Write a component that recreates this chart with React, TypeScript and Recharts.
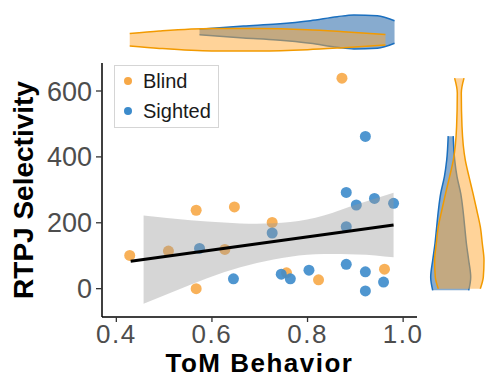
import { ComposedChart, Scatter, Line, Area, XAxis, YAxis, Legend } from 'recharts';

// scatter points (ToM behavior vs RTPJ selectivity)
const blindX = [0.428, 0.509, 0.567, 0.567, 0.627, 0.647, 0.726, 0.756, 0.823, 0.872, 0.961];
const blindY = [101, 114, 238, 0, 119, 248, 201, 48, 27, 639, 59];
const sightedX = [0.574, 0.645, 0.726, 0.745, 0.764, 0.803, 0.881, 0.881, 0.881, 0.902, 0.921, 0.921, 0.921, 0.94, 0.959, 0.98];
const sightedY = [122, 30, 169, 44, 30, 56, 292, 188, 74, 254, 462, 51, -7, 274, 20, 259];

// linear fit and its confidence band
const fitX = [0.43, 0.98];
const fitY = [83, 193];
const bandX = [0.457, 0.555, 0.625, 0.694, 0.764, 0.834, 0.904, 0.98];
const bandLow = [-46, 12, 50, 78, 97, 105, 104, 95];
const bandHigh = [222, 208, 201, 197, 202, 222, 256, 291];

// marginal violins: half widths (px) at sampled values
const topBlindX = [0.428, 0.49, 0.6, 0.7, 0.8, 0.875, 0.963];
const topBlindW = [6.2, 8.7, 11.3, 11.3, 10, 8, 5.3];
const topSightedX = [0.574, 0.666, 0.736, 0.806, 0.862, 0.897, 0.946, 0.982];
const topSightedW = [2.7, 6, 8, 11.3, 15.3, 17, 16.3, 11.3];
const rightBlindY = [0, 35, 86, 137, 188, 238, 289, 340, 390, 492, 594, 639];
const rightBlindW = [21, 24, 24.7, 23, 21, 17.5, 13.7, 9.7, 6, 2.7, 2, 4.7];
const rightSightedY = [-5, 35, 86, 137, 188, 238, 289, 340, 390, 463];
const rightSightedW = [18, 20, 18, 15.7, 14, 12.3, 10, 6.3, 4, 2.5];

const groups = ['Blind', 'Sighted'];
const xTicks = [0.4, 0.6, 0.8, 1.0];
const yTicks = [0, 200, 400, 600];

const FONT = '"Liberation Sans", Arial, Helvetica, sans-serif';
const ORANGE = '#F7A847';
const BLUE = '#3C8BCB';
const X_DOMAIN = [0.37, 1.029];
const Y_DOMAIN = [-86, 685];

const blindPts = blindX.map((x, i) => ({ x, y: blindY[i] }));
const sightedPts = sightedX.map((x, i) => ({ x, y: sightedY[i] }));
const fitData = fitX.map((x, i) => ({ x, y: fitY[i] }));
const bandData = bandX.map((x, i) => ({ x, band: [bandLow[i], bandHigh[i]] }));
const topBlind = topBlindX.map((x, i) => ({ x, w: topBlindW[i] }));
const topSighted = topSightedX.map((x, i) => ({ x, w: topSightedW[i] }));
const rightBlind = rightBlindY.map((y, i) => ({ y, w: rightBlindW[i] }));
const rightSighted = rightSightedY.map((y, i) => ({ y, w: rightSightedW[i] }));

const dot = (color: string) => (p: any) => (
  <circle cx={p.cx} cy={p.cy} r={5.5} fill={color} fillOpacity={0.9} />
);

const YTitle = ({ viewBox }: any) => {
  const cy = viewBox.y + viewBox.height / 2;
  return (
    <text x={33} y={cy} transform={`rotate(-90, 33, ${cy})`} textAnchor="middle"
      style={{ fontFamily: FONT, fontWeight: 700, fontSize: 28, fill: '#000' }}>
      RTPJ Selectivity
    </text>
  );
};

const LegendBox = () => (
  <div style={{ width: 105, height: 63, boxSizing: 'border-box', border: '1.5px solid #D5D5D5', background: '#fff', padding: '0 0 0 9px', fontFamily: FONT, fontSize: 20, color: '#1a1a1a' }}>
    {groups.map((g, i) => (
      <div key={g} style={{ display: 'flex', alignItems: 'center', height: 30 }}>
        <span style={{ width: 8, height: 8, borderRadius: '50%', background: i === 0 ? ORANGE : BLUE, display: 'inline-block', marginRight: 11 }} />
        {g}
      </div>
    ))}
  </div>
);

const violin = { type: 'monotone' as const, strokeWidth: 1.5, isAnimationActive: false };

export default function App() {
  return (
    <div style={{ position: 'fixed', left: 0, top: 0, width: 487, height: 378, background: '#fff' }}>
      <div style={{ position: 'absolute', left: 0, top: 0 }}>
        <ComposedChart width={487} height={378} margin={{ top: 63, right: 70, bottom: 0, left: 0 }}>
          <XAxis type="number" dataKey="x" domain={X_DOMAIN} ticks={xTicks} allowDataOverflow height={61}
            tickFormatter={(v) => v.toFixed(1)}
            axisLine={{ stroke: '#000', strokeWidth: 1.5 }} tickLine={{ stroke: '#333', strokeWidth: 1.3 }}
            tickSize={5} tickMargin={3} tick={{ fill: '#4D4D4D', fontSize: 26, fontFamily: FONT, letterSpacing: 1.5 }}
            label={{ value: 'ToM Behavior', position: 'insideBottom', offset: 6, style: { fontFamily: FONT, fontWeight: 700, fontSize: 26, fill: '#000', letterSpacing: 1.5 } }} />
          <YAxis type="number" dataKey="y" domain={Y_DOMAIN} ticks={yTicks} allowDataOverflow width={102}
            axisLine={{ stroke: '#000', strokeWidth: 1.5 }} tickLine={{ stroke: '#333', strokeWidth: 1.3 }}
            tickSize={6} tickMargin={4} tick={{ fill: '#4D4D4D', fontSize: 27, fontFamily: FONT }}
            label={{ content: YTitle }} />
          <Scatter data={blindPts} shape={dot(ORANGE)} isAnimationActive={false} />
          <Scatter data={sightedPts} shape={dot(BLUE)} isAnimationActive={false} />
          <Area data={bandData} dataKey="band" type="monotone" fill="#999999" fillOpacity={0.4} stroke="none" isAnimationActive={false} zIndex={700} />
          <Line data={fitData} dataKey="y" stroke="#000" strokeWidth={3} dot={false} isAnimationActive={false} zIndex={800} />
          <Legend layout="horizontal" verticalAlign="middle" align="center" content={LegendBox}
            wrapperStyle={{ left: 114, top: 65, width: 105, height: 63 }} />
        </ComposedChart>
      </div>
      <div style={{ position: 'absolute', left: 0, top: 0 }}>
        <ComposedChart width={487} height={60} margin={{ top: 0, right: 70, bottom: 0, left: 102 }}>
          <XAxis hide type="number" dataKey="x" domain={X_DOMAIN} allowDataOverflow />
          <YAxis hide type="number" domain={[0, 60]} reversed allowDataOverflow />
          <Area data={topSighted} dataKey={(d: any) => [32 - d.w, 32 + d.w]} fill="#10579F" fillOpacity={0.5} stroke="#1A6FBF" {...violin} />
          <Area data={topBlind} dataKey={(d: any) => [39.7 - d.w, 39.7 + d.w]} fill="#FFA834" fillOpacity={0.5} stroke="#F29A00" {...violin} />
        </ComposedChart>
      </div>
      <div style={{ position: 'absolute', left: 0, top: 0 }}>
        <ComposedChart layout="vertical" width={487} height={378} margin={{ top: 63, right: 0, bottom: 61, left: 0 }}>
          <XAxis hide type="number" domain={[0, 487]} allowDataOverflow />
          <YAxis hide type="number" dataKey="y" domain={Y_DOMAIN} reversed allowDataOverflow />
          <Area data={rightSighted} dataKey={(d: any) => [450.7 - d.w, 450.7 + d.w]} fill="#10579F" fillOpacity={0.5} stroke="#1A6FBF" {...violin} />
          <Area data={rightBlind} dataKey={(d: any) => [459.3 - d.w, 459.3 + d.w]} fill="#FFA834" fillOpacity={0.5} stroke="#F29A00" {...violin} />
        </ComposedChart>
      </div>
    </div>
  );
}
